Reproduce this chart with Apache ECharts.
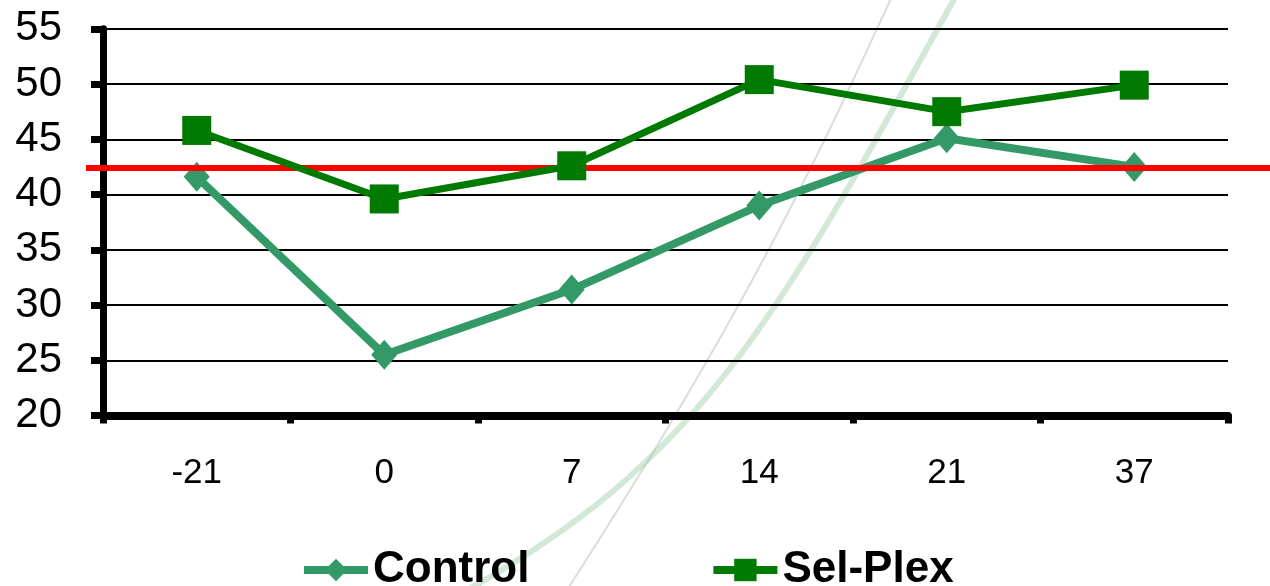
<!DOCTYPE html>
<html>
<head>
<meta charset="utf-8">
<style>
html,body{margin:0;padding:0;background:#fff;}
#chart{width:1270px;height:586px;}
</style>
<script src="https://cdn.jsdelivr.net/npm/echarts@6/dist/echarts.min.js"></script>
</head>
<body>
<div id="chart"></div>
<script>
const categories = ['-21', '0', '7', '14', '21', '37'];
const controlValues = [41.6, 25.5, 31.4, 39.0, 45.1, 42.5];
const selPlexValues = [45.8, 39.6, 42.6, 50.4, 47.5, 49.9];
const referenceValue = 42.4;
const seriesNames = ['Control', 'Sel-Plex'];

const chart = echarts.init(document.getElementById('chart'), null, {renderer: 'canvas'});
const FONT = '"Liberation Sans", Arial, sans-serif';

const option = {
  animation: false,
  backgroundColor: '#ffffff',
  graphic: [
    {
      type: 'bezierCurve', z: -10, silent: true,
      shape: {x1: 958, y1: -8, cpx1: 776, cpy1: 322, cpx2: 700, cpy2: 462, x2: 460, y2: 594},
      style: {stroke: 'rgba(150,200,160,0.42)', lineWidth: 6, fill: null}
    },
    {
      type: 'bezierCurve', z: -10, silent: true,
      shape: {x1: 894, y1: -8, cpx1: 830, cpy1: 130, cpx2: 760, cpy2: 290, x2: 567, y2: 590},
      style: {stroke: 'rgba(165,185,170,0.45)', lineWidth: 2, fill: null}
    }
  ],
  legend: {
    data: [
      {name: seriesNames[0], lineStyle: {width: 8}},
      {name: seriesNames[1], lineStyle: {width: 8}}
    ],
    left: 300,
    top: 548,
    padding: 0,
    itemWidth: 64,
    itemHeight: 28,
    itemGap: 180,
    textStyle: {fontFamily: FONT, fontSize: 44, fontWeight: 'bold', color: '#000'}
  },
  grid: [
    {left: 103, right: 42, top: 28.8, bottom: 170.5, containLabel: false},
    {left: 86, right: 0, top: 28.8, bottom: 170.5, containLabel: false}
  ],
  xAxis: [
    {
      type: 'category',
      gridIndex: 0,
      data: categories,
      boundaryGap: true,
      axisLine: {show: true, lineStyle: {color: '#000', width: 8}},
      axisTick: {show: true, inside: false, length: 8, lineStyle: {color: '#000', width: 7}},
      axisLabel: {fontFamily: FONT, fontSize: 35, color: '#000', margin: 40},
      splitLine: {show: false}
    },
    {type: 'value', gridIndex: 1, min: 0, max: 1, show: false}
  ],
  yAxis: [
    {
      type: 'value',
      gridIndex: 0,
      min: 20, max: 55, interval: 5,
      axisLine: {show: true, lineStyle: {color: '#000', width: 7}},
      axisTick: {show: true, inside: false, length: 12, lineStyle: {color: '#000', width: 7}},
      axisLabel: {fontFamily: FONT, fontSize: 42, color: '#000', margin: 41},
      splitLine: {show: true, lineStyle: {color: '#000', width: 2}}
    },
    {type: 'value', gridIndex: 1, min: 20, max: 55, show: false}
  ],
  series: [
    {
      name: seriesNames[0],
      type: 'line',
      xAxisIndex: 0, yAxisIndex: 0,
      data: controlValues,
      z: 2,
      symbol: 'diamond',
      symbolSize: [26, 30],
      lineStyle: {color: '#339966', width: 8},
      itemStyle: {color: '#339966'}
    },
    {
      name: 'Reference',
      type: 'line',
      xAxisIndex: 1, yAxisIndex: 1,
      data: [[0, referenceValue], [1, referenceValue]],
      z: 3,
      symbol: 'none',
      lineStyle: {color: '#ff0000', width: 6},
      silent: true
    },
    {
      name: seriesNames[1],
      type: 'line',
      xAxisIndex: 0, yAxisIndex: 0,
      data: selPlexValues,
      z: 4,
      symbol: 'rect',
      symbolSize: 29,
      lineStyle: {color: '#007a00', width: 7},
      itemStyle: {color: '#007a00'}
    }
  ]
};
chart.setOption(option);
</script>
</body>
</html>
